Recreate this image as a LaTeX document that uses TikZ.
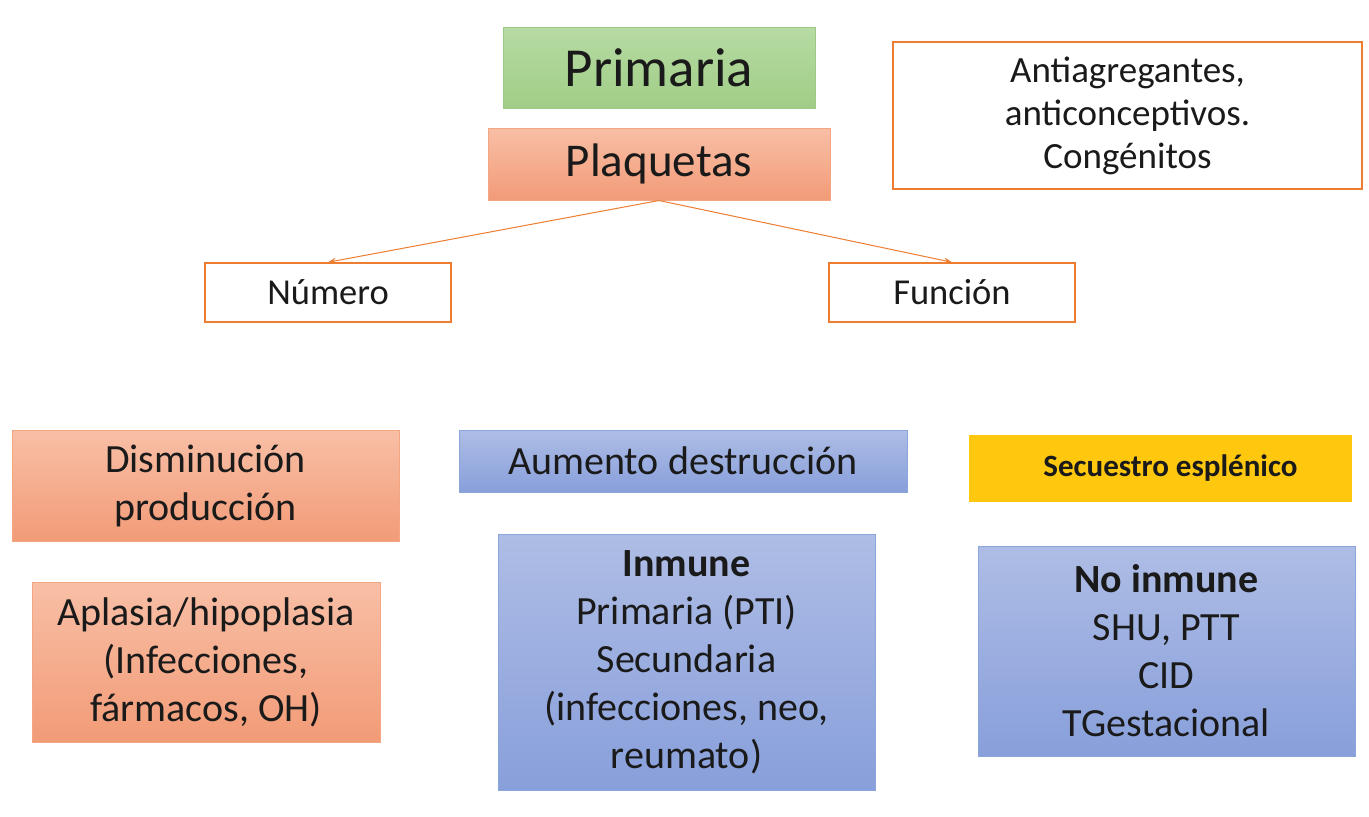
\documentclass[tikz,border=0pt]{standalone}
\usepackage{fontspec}
\setmainfont{Carlito}
\usetikzlibrary{arrows.meta}
\definecolor{grtop}{HTML}{B7DBA4}
\definecolor{grbot}{HTML}{A0CD86}
\definecolor{grline}{HTML}{9CC985}
\definecolor{satop}{HTML}{F8BFA6}
\definecolor{sabot}{HTML}{F29B77}
\definecolor{saline}{HTML}{F4A582}
\definecolor{bltop}{HTML}{AEBDE5}
\definecolor{blbot}{HTML}{889FDB}
\definecolor{blline}{HTML}{8CA5DB}
\definecolor{orline}{HTML}{ED7D31}
\definecolor{yel}{HTML}{FFC80F}
\definecolor{txt}{HTML}{1A1A1A}
\tikzset{
  box/.style={inner sep=0pt, align=center, text=txt, line width=1pt},
  greenbox/.style={box, draw=grline, top color=grtop, bottom color=grbot},
  salbox/.style={box, draw=saline, top color=satop, bottom color=sabot},
  bluebox/.style={box, draw=blline, top color=bltop, bottom color=blbot},
  whitebox/.style={box, draw=orline, fill=white, line width=1.5pt},
  yelbox/.style={box, fill=yel},
  arr/.style={draw=orline, line width=1pt, -{Stealth[length=8pt,width=6pt]}},
  body/.style={font=\fontsize{40}{48}\selectfont}
}
\begin{document}
\begin{tikzpicture}[x=1pt,y=-1pt]
\path[use as bounding box, fill=white] (0,0) rectangle (1369,817);

\node[greenbox, minimum width=312pt, minimum height=81pt, font=\fontsize{55}{60}\selectfont] (prim) at (659,67.5) {Primaria};
\node[salbox, minimum width=342pt, minimum height=72pt, font=\fontsize{47}{52}\selectfont] (plaq) at (659,164) {Plaquetas};
\node[whitebox, minimum width=469pt, minimum height=147pt, font=\fontsize{37}{43}\selectfont] (anti) at (1127.5,115.5) {Antiagregantes,\\anticonceptivos.\\Congénitos};

\node[whitebox, minimum width=246pt, minimum height=59pt, font=\fontsize{36.5}{42}\selectfont] (num) at (328,292.5) {Número};
\node[whitebox, minimum width=246pt, minimum height=59pt, font=\fontsize{36.5}{42}\selectfont] (fun) at (952,292.5) {Función};

\draw[arr] (plaq.south) -- (num.north);
\draw[arr] (plaq.south) -- (fun.north);

\node[salbox, body, minimum width=387pt, minimum height=111pt] (dism) at (205.5,485.5) {Disminución\\producción};
\node[bluebox, body, minimum width=448pt, minimum height=62pt] (aum) at (683,461) {Aumento destrucción};
\node[yelbox, minimum width=383pt, minimum height=67pt, font=\fontsize{31}{36}\selectfont\bfseries] (sec) at (1160.5,468.5) {\hspace*{20pt}Secuestro esplénico};

\node[salbox, body, minimum width=348pt, minimum height=160pt] (apl) at (206,662) {Aplasia/hipoplasia\\(Infecciones,\\fármacos, OH)};
\node[bluebox, body, minimum width=377pt, minimum height=256pt] (inm) at (686.5,662) {\textbf{Inmune}\\Primaria (PTI)\\Secundaria\\(infecciones, neo,\\reumato)};
\node[bluebox, body, minimum width=377pt, minimum height=210pt] (noinm) at (1166.5,651) {\textbf{No inmune}\\SHU, PTT\\CID\\TGestacional};
\end{tikzpicture}
\end{document}
